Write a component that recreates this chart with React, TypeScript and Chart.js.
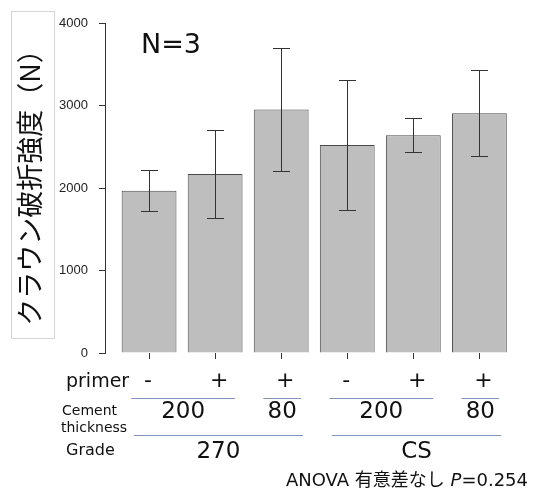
import React, { useEffect, useRef } from "react";
import { Chart, registerables } from "chart.js";

Chart.register(...registerables);

// ---- data ----
const primer = ["-", "+", "+", "-", "+", "+"];
const thicknessGroups = [
  { label: "200", from: 0, to: 1 },
  { label: "80", from: 2, to: 2 },
  { label: "200", from: 3, to: 4 },
  { label: "80", from: 5, to: 5 },
];
const gradeGroups = [
  { label: "270", from: 0, to: 2 },
  { label: "CS", from: 3, to: 5 },
];
const means = [1968, 2170, 2953, 2521, 2640, 2905];
const sds = [250, 530, 748, 788, 203, 522];
const yTicks = [0, 1000, 2000, 3000, 4000];

const yTitle = "クラウン破折強度（N）";
const nLabel = "N=3";
const anovaPrefix = "ANOVA 有意差なし ";
const anovaP = "P";
const anovaValue = "=0.254";

const LATIN = '"DejaVu Sans", "Noto Sans CJK JP", sans-serif';
const LINE_BLUE = "#7f93bd";

const annotPlugin = {
  id: "annot",
  beforeDraw(chart: any) {
    const ctx = chart.ctx;
    ctx.save();
    ctx.fillStyle = "#ffffff";
    ctx.fillRect(0, 0, chart.width, chart.height);
    ctx.restore();
  },
  afterDatasetsDraw(chart: any) {
    const ctx = chart.ctx;
    const xs = chart.scales.x;
    const ys = chart.scales.y;
    ctx.save();
    ctx.strokeStyle = "#333333";
    ctx.lineWidth = 1;
    means.forEach((m, i) => {
      const x = Math.round(xs.getPixelForValue(i)) + 0.5;
      const yt = Math.round(ys.getPixelForValue(m + sds[i])) + 0.5;
      const yb = Math.round(ys.getPixelForValue(m - sds[i])) + 0.5;
      ctx.beginPath();
      ctx.moveTo(x, yt);
      ctx.lineTo(x, yb);
      ctx.moveTo(x - 8.5, yt);
      ctx.lineTo(x + 8.5, yt);
      ctx.moveTo(x - 8.5, yb);
      ctx.lineTo(x + 8.5, yb);
      ctx.stroke();
    });
    ctx.restore();
  },
  afterDraw(chart: any) {
    const ctx = chart.ctx;
    const xs = chart.scales.x;
    ctx.save();

    // y title box
    ctx.strokeStyle = "#d4d4d4";
    ctx.lineWidth = 1;
    ctx.strokeRect(11.5, 11.5, 43, 327);
    ctx.save();
    ctx.translate(30, 181);
    ctx.rotate(-Math.PI / 2);
    ctx.fillStyle = "#111111";
    ctx.font = '27px "Noto Sans CJK JP", sans-serif';
    ctx.textAlign = "center";
    ctx.textBaseline = "middle";
    ctx.fillText(yTitle, 0, 0);
    ctx.restore();

    // N=3
    ctx.fillStyle = "#111111";
    ctx.font = "27px " + LATIN;
    ctx.textAlign = "left";
    ctx.textBaseline = "alphabetic";
    ctx.fillText(nLabel, 141, 53);

    // primer row
    ctx.textBaseline = "middle";
    ctx.font = "19px " + LATIN;
    ctx.textAlign = "left";
    ctx.fillText("primer", 66, 382);
    ctx.font = "22px " + LATIN;
    ctx.textAlign = "center";
    primer.forEach((p, i) => {
      ctx.fillText(p, xs.getPixelForValue(i) + (p === "+" ? 4 : -1), 381);
    });

    // thickness row
    ctx.strokeStyle = LINE_BLUE;
    ctx.lineWidth = 1;
    ctx.font = "23px " + LATIN;
    thicknessGroups.forEach((g) => {
      const a = xs.getPixelForValue(g.from - 0.27);
      const b = xs.getPixelForValue(g.to + 0.3);
      ctx.beginPath();
      ctx.moveTo(a, 398.5);
      ctx.lineTo(b, 398.5);
      ctx.stroke();
      ctx.fillText(g.label, (a + b) / 2, 412);
    });
    ctx.font = "14px " + LATIN;
    ctx.textAlign = "left";
    ctx.fillText("Cement", 62, 411);
    ctx.fillText("thickness", 61, 428);

    // grade row
    ctx.textAlign = "center";
    ctx.font = "23px " + LATIN;
    gradeGroups.forEach((g) => {
      const a = xs.getPixelForValue(g.from - 0.23);
      const b = xs.getPixelForValue(g.to + 0.33);
      ctx.beginPath();
      ctx.moveTo(a, 435.5);
      ctx.lineTo(b, 435.5);
      ctx.stroke();
      ctx.fillText(g.label, (a + b) / 2, 452);
    });
    ctx.font = "16px " + LATIN;
    ctx.textAlign = "left";
    ctx.fillText("Grade", 66, 451);

    // ANOVA note (right-aligned)
    const right = 528;
    const fs = "18px ";
    ctx.font = fs + LATIN;
    const wv = ctx.measureText(anovaValue).width;
    ctx.font = "italic " + fs + LATIN;
    const wp = ctx.measureText(anovaP).width;
    ctx.font = fs + LATIN;
    const wa = ctx.measureText(anovaPrefix).width;
    let x = right - wv - wp - wa;
    ctx.fillText(anovaPrefix, x, 481);
    x += wa;
    ctx.font = "italic " + fs + LATIN;
    ctx.fillText(anovaP, x, 481);
    x += wp;
    ctx.font = fs + LATIN;
    ctx.fillText(anovaValue, x, 481);

    ctx.restore();
  },
};

export default function App() {
  const ref = useRef<HTMLCanvasElement | null>(null);
  useEffect(() => {
    if (!ref.current) return;
    const chart = new Chart(ref.current, {
      type: "bar",
      data: {
        datasets: [
          {
            data: means.map((m, i) => ({ x: i, y: m })),
            backgroundColor: "#bebebe",
            borderColor: "#4a4a4a",
            borderWidth: 1,
            barPercentage: 0.83,
            categoryPercentage: 1,
          },
        ],
      },
      options: {
        responsive: false,
        animation: false,
        layout: { padding: { left: 0, right: 26.6, top: 23, bottom: 129 } },
        plugins: {
          legend: { display: false },
          tooltip: { enabled: false },
          title: { display: false },
        },
        scales: {
          x: {
            type: "linear",
            min: -0.667,
            max: 5.5,
            offset: false,
            afterBuildTicks: (scale: any) => {
              scale.ticks = means.map((_, i) => ({ value: i }));
            },
            afterFit: (scale: any) => {
              scale.height = 8;
            },
            border: { display: false },
            grid: {
              offset: false,
              drawOnChartArea: false,
              drawTicks: true,
              tickLength: 6,
              color: "#333333",
            },
            ticks: { display: false },
          },
          y: {
            min: 0,
            max: 4000,
            afterBuildTicks: (scale: any) => {
              scale.ticks = yTicks.map((v) => ({ value: v }));
            },
            afterFit: (scale: any) => {
              scale.width = 105;
            },
            border: { display: true, color: "#333333" },
            grid: {
              drawOnChartArea: false,
              drawTicks: true,
              tickLength: 6,
              color: "#333333",
            },
            ticks: {
              padding: 11,
              color: "#222222",
              font: { family: '"Liberation Sans", Arial, sans-serif', size: 13 },
              callback: (v: any) => String(v),
            },
          },
        },
      },
      plugins: [annotPlugin],
    } as any);
    return () => chart.destroy();
  }, []);
  return (
    <div style={{ position: "fixed", left: 0, top: 0, width: 539, height: 490, background: "#fff" }}>
      <canvas ref={ref} width={539} height={490} style={{ width: 539, height: 490 }} />
    </div>
  );
}
